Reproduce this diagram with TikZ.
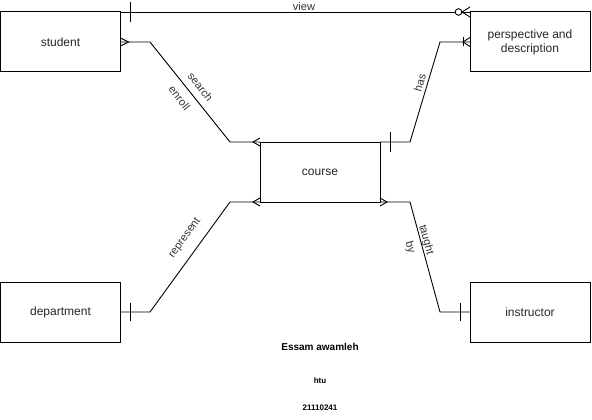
\documentclass[tikz,border=0pt]{standalone}
\usepackage{fontspec}
\setmainfont{Liberation Sans}
\begin{document}
\begin{tikzpicture}[x=1pt,y=-1pt,
  entity/.style={draw, line width=1pt, minimum width=120pt, minimum height=60pt,
    inner sep=0pt, outer sep=0pt, align=center, text=black!85,
    font=\fontsize{12}{14}\selectfont},
  rel/.style={line width=0.9pt},
  lbl/.style={font=\fontsize{11}{13}\selectfont, text=black!80, inner sep=0pt},
  note/.style={font=\bfseries\fontsize{10}{12}\selectfont, inner sep=0pt},
  smallnote/.style={font=\bfseries\fontsize{8}{10}\selectfont, inner sep=0pt},
]
\useasboundingbox (0,0) rectangle (592,420);

% entities
\node[entity] (student) at (60.5,42) {student};
\node[entity] (persp)   at (530,42)  {perspective and\\description};
\node[entity] (course)  at (320,172) {course};
\node[entity] (dept)    at (60.5,312) {department};
\node[entity] (instr)   at (530,312) {instructor};

% bends of the relationship lines
\coordinate (s1) at (150,42);
\coordinate (s2) at (230,142);
\coordinate (h1) at (410,142);
\coordinate (h2) at (440,42);
\coordinate (r1) at (150,312);
\coordinate (r2) at (230,202);
\coordinate (t1) at (410,202);
\coordinate (t2) at (440,312);

% view: student (one) -- perspective (zero or many)
\draw[rel] (student.north east) -- (persp.north west);
\draw[rel] ([xshift=10pt]student.north east) ++(0,-10) -- ++(0,20);
\draw[rel] ([yshift=5pt]persp.north west) -- ([xshift=-8pt]persp.north west) -- ([yshift=-5pt]persp.north west);
\draw[rel, fill=white] ([xshift=-11.5pt]persp.north west) circle (3.3pt);
\node[lbl] (lview) at (304,7) {view};

% search / enroll: student (many) -- course (many)
\draw[rel] (student.east) -- (s1) -- (s2) -- (course.north west);
\draw[rel] ([yshift=4pt]student.east) -- ([xshift=8pt]student.east) -- ([yshift=-4pt]student.east);
\draw[rel] ([yshift=4pt]course.north west) -- ([xshift=-7pt]course.north west) -- ([yshift=-4pt]course.north west);
\node[lbl, rotate=-51.3] (lsearch) at (200.5,87) {search};
\node[lbl, rotate=-51.3] (lenroll) at (179.5,98) {enroll};

% has: course (one) -- perspective (one or many)
\draw[rel] (course.north east) -- (h1) -- (h2) -- (persp.west);
\draw[rel] ([xshift=10pt]course.north east) ++(0,-10) -- ++(0,20);
\draw[rel] ([yshift=4.5pt]persp.west) -- ([xshift=-7pt]persp.west) -- ([yshift=-4.5pt]persp.west);
\draw[rel] ([xshift=-7pt]persp.west) ++(0,-4.5) -- ++(0,9);
\node[lbl, rotate=73.3] (lhas) at (420,83) {has};

% represent: department (one) -- course (many)
\draw[rel] (dept.east) -- (r1) -- (r2) -- (course.south west);
\draw[rel] ([xshift=10pt]dept.east) ++(0,-9) -- ++(0,18);
\draw[rel] ([yshift=4pt]course.south west) -- ([xshift=-7pt]course.south west) -- ([yshift=-4pt]course.south west);
\node[lbl, rotate=54] (lrep) at (185,238) {represent};

% taught by: course (many) -- instructor (one)
\draw[rel] (course.south east) -- (t1) -- (t2) -- (instr.west);
\draw[rel] ([yshift=4pt]course.south east) -- ([xshift=7pt]course.south east) -- ([yshift=-4pt]course.south east);
\draw[rel] ([xshift=-10pt]instr.west) ++(0,-9) -- ++(0,18);
\node[lbl, rotate=-74.7] (ltaught) at (426,240) {taught};
\node[lbl, rotate=-74.7] (lby) at (410,247) {by};

% author block
\node[note] (author) at (320,347) {Essam awamleh};
\node[smallnote] (uni) at (320,381) {htu};
\node[smallnote] (sid) at (320,408) {21110241};
\end{tikzpicture}
\end{document}
